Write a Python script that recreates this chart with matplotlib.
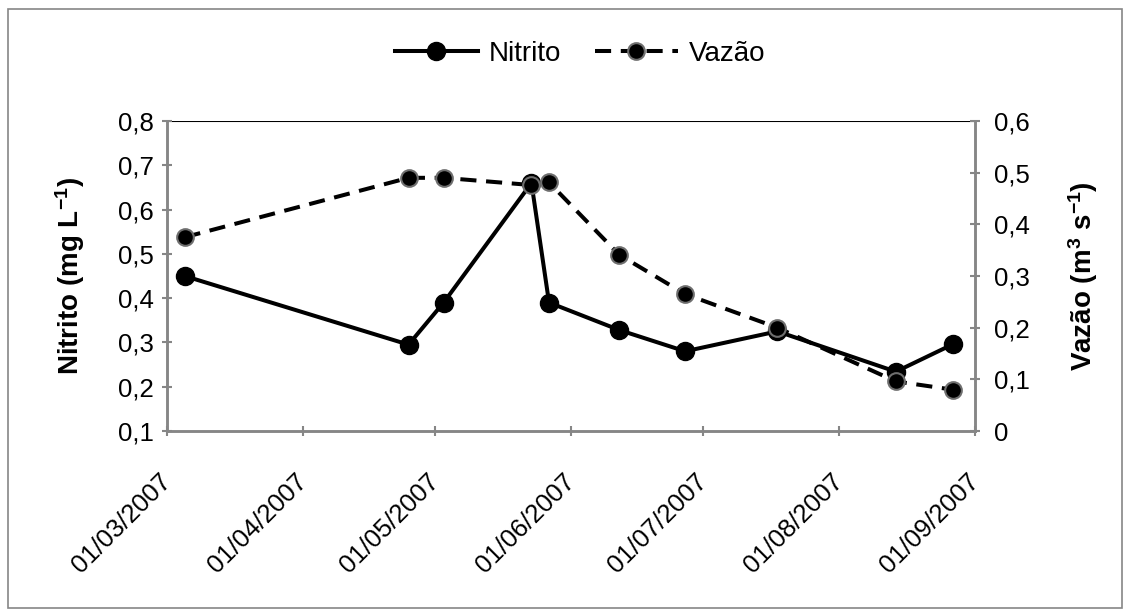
import matplotlib.pyplot as plt
import matplotlib.dates as mdates
import matplotlib.patches as patches
import matplotlib.transforms as mtransforms
import numpy as np

# sampling dates and values
dates = np.array(['2007-03-05', '2007-04-25', '2007-05-03', '2007-05-23', '2007-05-27',
                  '2007-06-12', '2007-06-27', '2007-07-18', '2007-08-14', '2007-08-27'],
                 dtype='datetime64[D]')
nitrito = [0.45, 0.295, 0.39, 0.66, 0.39, 0.328, 0.28, 0.325, 0.234, 0.296]
vazao = [0.375, 0.49, 0.49, 0.476, 0.481, 0.341, 0.265, 0.2, 0.096, 0.08]

left_ticks = [0.1, 0.2, 0.3, 0.4, 0.5, 0.6, 0.7, 0.8]
left_labels = ['0,1', '0,2', '0,3', '0,4', '0,5', '0,6', '0,7', '0,8']
right_ticks = [0, 0.1, 0.2, 0.3, 0.4, 0.5, 0.6]
right_labels = ['0', '0,1', '0,2', '0,3', '0,4', '0,5', '0,6']
month_ticks = np.array(['2007-03-01', '2007-04-01', '2007-05-01', '2007-06-01',
                        '2007-07-01', '2007-08-01', '2007-09-01'], dtype='datetime64[D]')

plt.rcParams['font.family'] = ['Liberation Sans', 'DejaVu Sans']
plt.rcParams['mathtext.fontset'] = 'custom'
plt.rcParams['mathtext.rm'] = 'Liberation Sans'
plt.rcParams['mathtext.bf'] = 'Liberation Sans:bold'

axis_gray = '#868686'

fig = plt.figure(figsize=(11.31, 6.16), dpi=100)
fig.patches.append(patches.Rectangle((0.007, 0.013), 0.985, 0.972, transform=fig.transFigure,
                                     fill=False, edgecolor=axis_gray, lw=1.2))

ax = fig.add_axes([0.1477, 0.3003, 0.7143, 0.5033])
ax2 = ax.twinx()

l1, = ax.plot(dates, nitrito, '-', color='black', lw=2.9, marker='o', markersize=13,
              markerfacecolor='black', markeredgecolor='black', label='Nitrito')
l2, = ax2.plot(dates, vazao, '--', color='black', lw=2.9, dashes=(4, 2.4), marker='o', markersize=12,
               markerfacecolor='black', markeredgecolor='#6e6e6e', markeredgewidth=1.5, label='Vazão')

ax.set_xlim(month_ticks[0], month_ticks[-1])
ax.set_ylim(0.1, 0.8)
ax2.set_ylim(0, 0.6)

ax.axhline(0.8, color='black', lw=1.5, zorder=1)

ax.set_yticks(left_ticks)
ax.set_yticklabels(left_labels)
ax2.set_yticks(right_ticks)
ax2.set_yticklabels(right_labels)
ax.set_xticks(month_ticks)
ax.xaxis.set_major_formatter(mdates.DateFormatter('%d/%m/%Y'))

for a in (ax, ax2):
    for s in a.spines.values():
        s.set_color(axis_gray)
        s.set_linewidth(1.8)
    a.spines['top'].set_visible(False)
    a.tick_params(direction='inout', length=7.5, width=1.5, color=axis_gray,
                  labelsize=18.5, labelcolor='black')
ax.tick_params(axis='y', pad=6)
ax2.tick_params(axis='y', pad=10)
ax.tick_params(axis='x', pad=24)

shift = mtransforms.ScaledTranslation(-8 / 100, 0, fig.dpi_scale_trans)
for lab in ax.get_xticklabels():
    lab.set_rotation(45)
    lab.set_ha('right')
    lab.set_rotation_mode('anchor')
    lab.set_transform(lab.get_transform() + shift)

ax.set_ylabel(r'Nitrito (mg L$\mathbf{^{-1}}$)', fontsize=20, fontweight='bold', labelpad=22)
ax2.set_ylabel(r'Vazão (m$\mathbf{^{3}}$ s$\mathbf{^{-1}}$)', fontsize=20, fontweight='bold',
               labelpad=26)

fig.legend(handles=[l1, l2], loc='center', bbox_to_anchor=(0.513, 0.913), ncol=2, frameon=False,
           fontsize=20, handlelength=3.0, handletextpad=0.4, columnspacing=1.2)

fig.savefig('out.png', dpi=100)
